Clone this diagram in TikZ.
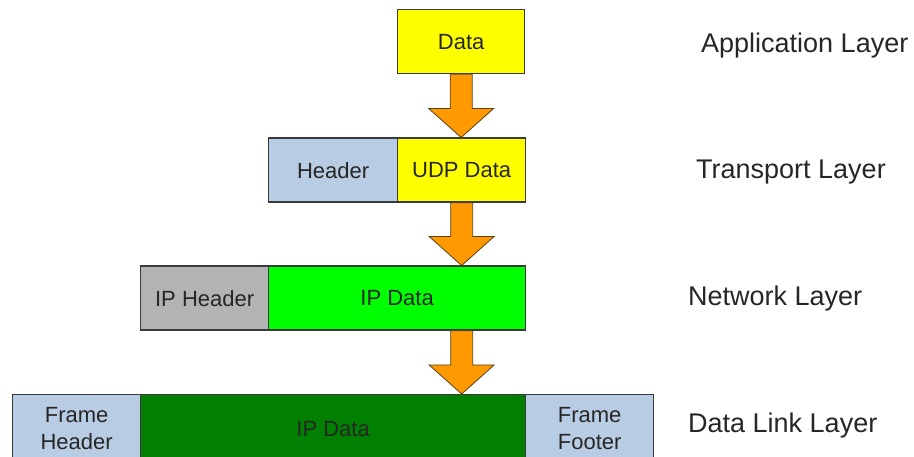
\documentclass[tikz,border=0pt]{standalone}
\usepackage{fontspec}
\setmainfont{Liberation Sans}
\usetikzlibrary{calc}
\definecolor{boxline}{HTML}{3A3A3A}
\definecolor{txt}{HTML}{262626}
\definecolor{yel}{HTML}{FFFF00}
\definecolor{hdrblue}{HTML}{B8CCE4}
\definecolor{hdrgray}{HTML}{B3B3B3}
\definecolor{ipgreen}{HTML}{00FF00}
\definecolor{dkgreen}{HTML}{007F00}
\definecolor{arrowfill}{HTML}{FF9900}
\definecolor{arrowline}{HTML}{5A4020}
\tikzset{
  cell/.style={draw=boxline, line width=1.3pt, anchor=north west, inner sep=0pt,
    minimum height=64pt, text=txt, font=\fontsize{22}{27}\selectfont, align=center},
  layer/.style={anchor=base west, inner sep=0pt, text=txt, font=\fontsize{27}{30}\selectfont},
  flow/.style={fill=arrowfill, draw=arrowline, line width=0.8pt, line join=miter}
}
% block arrow from the bottom of one row to the top of the next
\newcommand\downflow[2]{%
  \path[flow] let \p1=(#1), \p2=(#2) in
    (\x1-11pt,\y1) -- (\x1-11pt,\y2+29pt) -- (\x1-32.5pt,\y2+29pt) -- (\x1,\y2)
    -- (\x1+32.5pt,\y2+29pt) -- (\x1+11pt,\y2+29pt) -- (\x1+11pt,\y1) -- cycle;}
\begin{document}
\begin{tikzpicture}[x=1pt,y=-1pt]
\useasboundingbox (0,0) rectangle (914,457);

% application layer
\node[cell, fill=yel, minimum width=127pt] (data) at (397,9) {Data};
% transport layer
\node[cell, fill=hdrblue, minimum width=129pt] (udphdr) at (268,137.5) {Header};
\node[cell, fill=yel, minimum width=128pt] (udpdata) at (397,137.5) {UDP Data};
% network layer
\node[cell, fill=hdrgray, minimum width=128pt] (iphdr) at (140,265.5) {IP Header};
\node[cell, fill=ipgreen, minimum width=257pt] (ipdata) at (268,265.5) {IP Data};
% data link layer
\node[cell, fill=hdrblue, minimum width=128pt, minimum height=68pt] (fhdr) at (12,394) {Frame\\Header};
\node[cell, fill=dkgreen, minimum width=385pt, minimum height=68pt] (fdata) at (140,394) {IP Data};
\node[cell, fill=hdrblue, minimum width=128pt, minimum height=68pt] (ffoot) at (525,394) {Frame\\Footer};

% arrows between the layers
\coordinate (c1) at (udpdata.south);
\coordinate (c2) at (ipdata.south -| udpdata.south);
\downflow{data.south}{udpdata.north}
\downflow{c1}{c1 |- ipdata.north}
\downflow{c2}{c2 |- fdata.north}

% layer names
\node[layer] (lapp) at (701,53) {Application Layer};
\node[layer] (ltra) at (696,179) {Transport Layer};
\node[layer] (lnet) at (688,306) {Network Layer};
\node[layer] (llink) at (688,432) {Data Link Layer};
\end{tikzpicture}
\end{document}
